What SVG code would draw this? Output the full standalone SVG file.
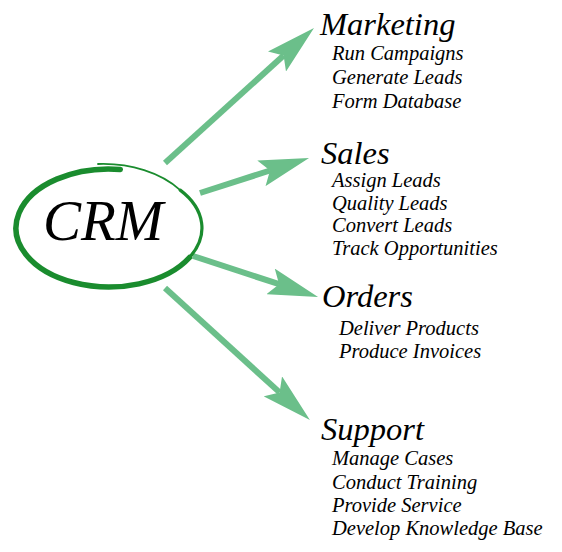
<svg xmlns="http://www.w3.org/2000/svg" width="562" height="552" viewBox="0 0 562 552">
<style>
.head{font-family:"Liberation Serif","Times New Roman",serif;font-style:italic;font-size:32.5px;fill:#000}
.item{font-family:"Liberation Serif","Times New Roman",serif;font-style:italic;font-size:20.5px;fill:#000}
.crm{font-family:"Liberation Serif","Times New Roman",serif;font-style:italic;font-size:57px;fill:#000}
.shaft{stroke:#6bbf8a;stroke-width:6;fill:none;marker-end:url(#ah)}
.ring{fill:none;stroke:#1a8c2e;stroke-linecap:round}
</style>
<defs>
<marker id="ah" viewBox="0 0 50 27" markerUnits="userSpaceOnUse" markerWidth="50" markerHeight="27" refX="9" refY="13.5" orient="auto">
<path d="M50,13.5 L0,0 L9,13.5 L0,27 Z" fill="#6bbf8a"/>
</marker>
</defs>
<rect width="562" height="552" fill="#fff"/>
<g id="connectors">
<line class="shaft" x1="165" y1="163" x2="283.6" y2="55.5"/>
<line class="shaft" x1="200" y1="193" x2="270" y2="170.5"/>
<line class="shaft" x1="193" y1="256" x2="279.1" y2="284.2"/>
<line class="shaft" x1="165" y1="288" x2="279.6" y2="392.4"/>
</g>
<g id="crm">
<path class="ring" stroke-width="5.5" d="M120.3,169.4 A93 59 0 1 0 189.5,257.5"/>
<path class="ring" stroke-width="3.2" d="M189.5,257.5 A93 59 0 0 0 180.2,190.1"/>
<path class="ring" stroke-width="1.8" d="M180.2,190.1 A95 63 0 0 0 98,164"/>
<text class="crm" x="43" y="240">CRM</text>
</g>
<g id="marketing">
<text class="head" x="320" y="35">Marketing</text>
<text class="item" x="332" y="60">Run Campaigns</text>
<text class="item" x="332" y="84">Generate Leads</text>
<text class="item" x="332" y="108">Form Database</text>
</g>
<g id="sales">
<text class="head" x="321" y="164">Sales</text>
<text class="item" x="332" y="187">Assign Leads</text>
<text class="item" x="332" y="210">Quality Leads</text>
<text class="item" x="332" y="232">Convert Leads</text>
<text class="item" x="332" y="255">Track Opportunities</text>
</g>
<g id="orders">
<text class="head" x="322" y="307">Orders</text>
<text class="item" x="339" y="335">Deliver Products</text>
<text class="item" x="339" y="358">Produce Invoices</text>
</g>
<g id="support">
<text class="head" x="321" y="440">Support</text>
<text class="item" x="332" y="465">Manage Cases</text>
<text class="item" x="332" y="489">Conduct Training</text>
<text class="item" x="332" y="512">Provide Service</text>
<text class="item" x="332" y="535">Develop Knowledge Base</text>
</g>
</svg>
